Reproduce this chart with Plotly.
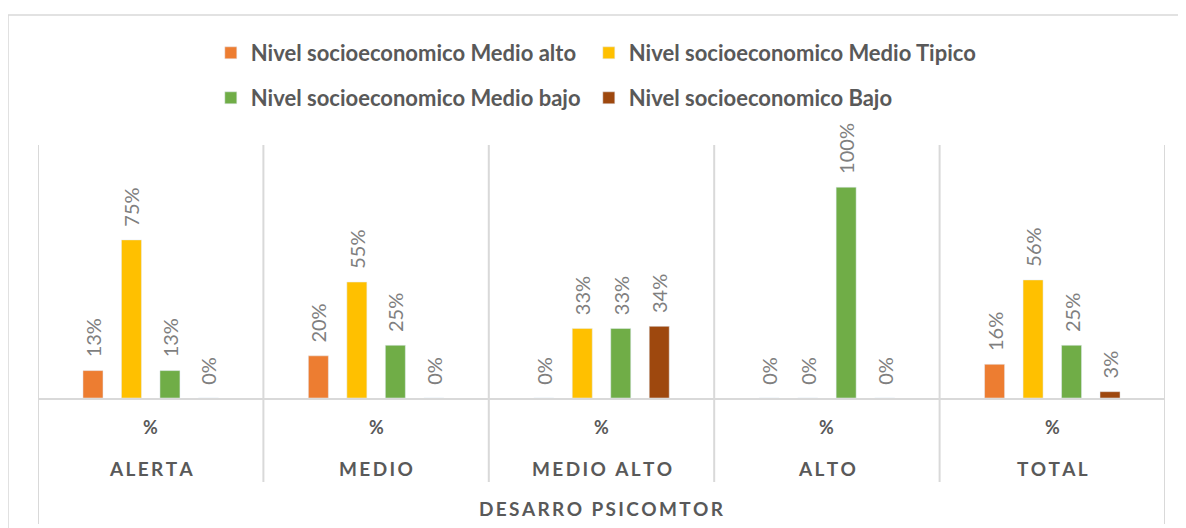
import plotly.graph_objects as go

grupos = ["ALERTA", "MEDIO", "MEDIO ALTO", "ALTO", "TOTAL"]
sub_etiqueta = "%"
eje_titulo = "DESARRO PSICOMTOR"

series = [
    "Nivel socioeconomico Medio alto",
    "Nivel socioeconomico Medio Tipico",
    "Nivel socioeconomico Medio bajo",
    "Nivel socioeconomico Bajo",
]
medio_alto = [0.13, 0.20, 0.00, 0.00, 0.16]
medio_tipico = [0.75, 0.55, 0.33, 0.00, 0.56]
medio_bajo = [0.13, 0.25, 0.33, 1.00, 0.25]
bajo = [0.00, 0.00, 0.34, 0.00, 0.03]

colores = ["#ED7D31", "#FFC000", "#70AD47", "#9E480E"]
# una leyenda por serie: 2 filas x 2 columnas como en Excel
leyendas = ["legend", "legend2", "legend3", "legend4"]

FUENTE = "Lato"
GRIS = "#595959"
LINEA = "#D9D9D9"


def espaciado(txt):
    # imita el espaciado de letras de Excel
    return "\u2009".join(txt)


fig = go.Figure()
for nombre, valores, color, ley in zip(series, [medio_alto, medio_tipico, medio_bajo, bajo], colores, leyendas):
    fig.add_trace(go.Bar(
        x=grupos, y=valores, name=nombre, marker_color=color, legend=ley, showlegend=True,
        # espacios duros delante: separan la etiqueta de la barra como en Excel
        text=[f"\u00a0\u00a0{v:.0%}" for v in valores], texttemplate="%{text}",
        textposition="outside", textangle=-90, constraintext="none", cliponaxis=False,
        textfont=dict(family=FUENTE, size=20, color="#7F7F7F"),
    ))

n = len(grupos)
for i in range(n + 1):
    extremo = i in (0, n)
    fig.add_shape(type="line", xref="x", yref="paper", x0=i - 0.5, x1=i - 0.5,
                  y0=1, y1=-0.498 if extremo else -0.332,
                  line=dict(color=LINEA, width=2), layer="below")

# marco exterior del gráfico
fig.add_shape(type="rect", xref="paper", yref="paper", x0=-0.0266, x1=1.06, y0=-0.7, y1=1.514,
              line=dict(color=LINEA, width=1.5), layer="below")

for g in grupos:
    fig.add_annotation(x=g, xref="x", y=-0.115, yref="paper", yanchor="middle",
                       text=f"<b>{sub_etiqueta}</b>",
                       showarrow=False, font=dict(family=FUENTE, size=18, color=GRIS))
    fig.add_annotation(x=g, xref="x", y=-0.277, yref="paper", yanchor="middle",
                       text=f"<b>{espaciado(g)}</b>",
                       showarrow=False, font=dict(family=FUENTE, size=19, color=GRIS))
fig.add_annotation(x=0.5, xref="paper", y=-0.435, yref="paper", yanchor="middle",
                   text=f"<b>{espaciado(eje_titulo)}</b>",
                   showarrow=False, font=dict(family=FUENTE, size=19, color=GRIS))

ley_fmt = dict(orientation="h", xref="container", yref="container", xanchor="left", yanchor="middle",
               bgcolor="rgba(0,0,0,0)",
               font=dict(family=FUENTE, size=22, color=GRIS, weight="bold"))
col1, col2 = 0.171, 0.171 + 378 / 1186
fila1, fila2 = 1 - 45 / 528, 1 - 90 / 528

fig.update_layout(
    width=1186, height=528,
    margin=dict(l=30, r=29, t=137, b=138),
    paper_bgcolor="white", plot_bgcolor="white",
    showlegend=True,
    barmode="group", bargap=0.317, bargroupgap=0.48,
    legend=dict(**ley_fmt, x=col1, y=fila1),
    legend2=dict(**ley_fmt, x=col2, y=fila1),
    legend3=dict(**ley_fmt, x=col1, y=fila2),
    legend4=dict(**ley_fmt, x=col2, y=fila2),
    xaxis=dict(range=[-0.5, n - 0.5], showticklabels=False, showgrid=False, zeroline=False,
               showline=True, linecolor=LINEA, linewidth=2, ticks=""),
    yaxis=dict(range=[0, 1.2], visible=False),
    font=dict(family=FUENTE, color=GRIS),
)

fig.write_html("out.html")
